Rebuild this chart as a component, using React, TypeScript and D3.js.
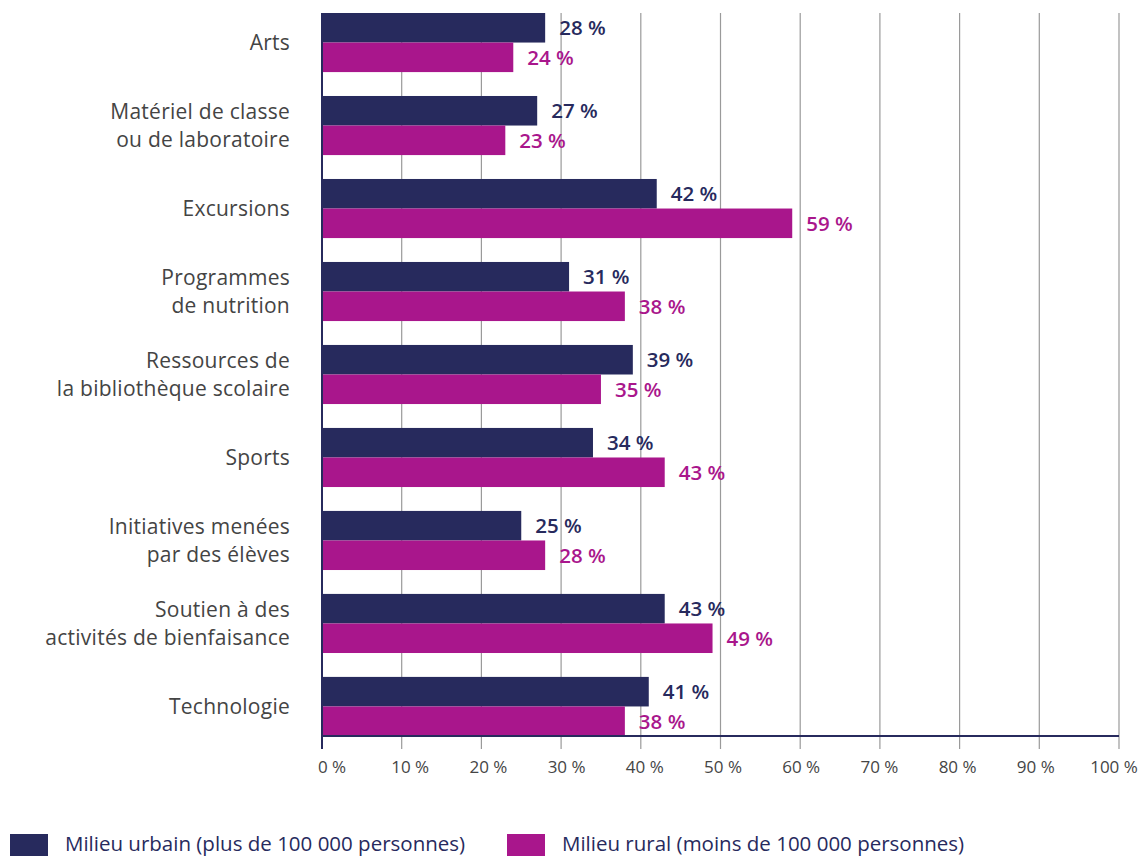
import React, { useRef, useEffect } from 'react';
import * as d3 from 'd3';

const categories = [
  'Arts',
  'Matériel de classe\nou de laboratoire',
  'Excursions',
  'Programmes\nde nutrition',
  'Ressources de\nla bibliothèque scolaire',
  'Sports',
  'Initiatives menées\npar des élèves',
  'Soutien à des\nactivités de bienfaisance',
  'Technologie',
];
const urbanValues = [28, 27, 42, 31, 39, 34, 25, 43, 41];
const ruralValues = [24, 23, 59, 38, 35, 43, 28, 49, 38];
const xTicks = [0, 10, 20, 30, 40, 50, 60, 70, 80, 90, 100];
const seriesNames = ['Milieu urbain (plus de 100 000 personnes)', 'Milieu rural (moins de 100 000 personnes)'];

const URBAN = '#272a5d';
const RURAL = '#a9168c';
const FONT = '"Open Sans", Lato, sans-serif';

const App: React.FC = () => {
  const svgRef = useRef<SVGSVGElement>(null);

  useEffect(() => {
    if (!svgRef.current) return;
    const svg = d3.select(svgRef.current);
    svg.selectAll('*').remove();

    const width = 1141;
    const height = 856;
    svg.attr('viewBox', `0 0 ${width} ${height}`);

    const left = 322;
    const right = 1119;
    const top = 13;
    const bottom = 736;

    const x = d3.scaleLinear().domain([0, 100]).range([left, right]);
    // tick labels sit on a slightly tighter spread than the grid in the original
    const xLabel = d3.scaleLinear().domain([0, 100]).range([left + 10, right - 5]);
    const y0 = d3.scaleBand().domain(categories).range([top, bottom]).paddingInner(0.288).paddingOuter(0);
    const y1 = d3.scaleBand().domain(['urban', 'rural']).range([0, y0.bandwidth()]).padding(0);

    // Grid lines
    svg.append('g')
      .selectAll('line')
      .data(xTicks.slice(1))
      .enter().append('line')
      .attr('x1', (d) => x(d)).attr('x2', (d) => x(d))
      .attr('y1', top).attr('y2', bottom + 13)
      .attr('stroke', '#9a9a9a').attr('stroke-width', 1.2);

    // Bars
    const groups = svg.append('g')
      .selectAll('g')
      .data(categories)
      .enter().append('g')
      .attr('transform', (d) => `translate(0,${y0(d)})`);

    const series = [
      { key: 'urban', values: urbanValues, color: URBAN },
      { key: 'rural', values: ruralValues, color: RURAL },
    ];

    series.forEach((s) => {
      groups.append('rect')
        .attr('x', x(0))
        .attr('y', y1(s.key) || 0)
        .attr('width', (_, i) => x(s.values[i]) - x(0))
        .attr('height', y1.bandwidth())
        .attr('fill', s.color);

      groups.append('text')
        .attr('x', (_, i) => x(s.values[i]) + 14)
        .attr('y', (y1(s.key) || 0) + y1.bandwidth() / 2)
        .attr('dy', '0.36em')
        .attr('fill', s.color)
        .attr('font-family', FONT)
        .attr('font-weight', 600)
        .attr('font-size', '20.5px')
        .text((_, i) => `${s.values[i]} %`);
    });

    // Axes lines
    svg.append('line')
      .attr('x1', left).attr('x2', right)
      .attr('y1', bottom).attr('y2', bottom)
      .attr('stroke', URBAN).attr('stroke-width', 2);
    svg.append('line')
      .attr('x1', left).attr('x2', left)
      .attr('y1', top).attr('y2', bottom + 13)
      .attr('stroke', URBAN).attr('stroke-width', 2);

    // Tick labels
    svg.append('g')
      .selectAll('text')
      .data(xTicks)
      .enter().append('text')
      .attr('x', (d) => xLabel(d))
      .attr('y', 767)
      .attr('dy', '0.36em')
      .attr('text-anchor', 'middle')
      .attr('fill', '#454545')
      .attr('font-family', FONT)
      .attr('font-size', '17px')
      .text((d) => `${d} %`);

    // Category labels
    svg.append('g')
      .selectAll('text')
      .data(categories)
      .enter().append('text')
      .attr('text-anchor', 'end')
      .attr('fill', '#444')
      .attr('font-family', FONT)
      .attr('font-size', '21px')
      .attr('letter-spacing', '0.25px')
      .each(function (d) {
        const lines = d.split('\n');
        const cy = (y0(d) || 0) + y0.bandwidth() / 2;
        const lh = 27.5;
        const start = cy - ((lines.length - 1) * lh) / 2;
        const t = d3.select(this);
        lines.forEach((line, i) => {
          t.append('tspan')
            .attr('x', 290)
            .attr('y', start + i * lh)
            .attr('dy', '0.35em')
            .text(line);
        });
      });

    // Legend
    const legend = svg.append('g');
    [
      { name: seriesNames[0], color: URBAN, x: 10 },
      { name: seriesNames[1], color: RURAL, x: 507 },
    ].forEach((item) => {
      legend.append('rect')
        .attr('x', item.x).attr('y', 834)
        .attr('width', 38).attr('height', 22)
        .attr('fill', item.color);
      legend.append('text')
        .attr('x', item.x + 55).attr('y', 851)
        .attr('fill', URBAN)
        .attr('font-family', FONT)
        .attr('font-size', '20.5px')
        .text(item.name);
    });
  }, []);

  return (
    <div style={{ position: 'fixed', left: 0, top: 0, width: '100vw', height: '100vh', background: '#fff' }}>
      <svg ref={svgRef} preserveAspectRatio="xMidYMid meet" style={{ width: '100%', height: '100%', display: 'block' }} />
    </div>
  );
};

export default App;
